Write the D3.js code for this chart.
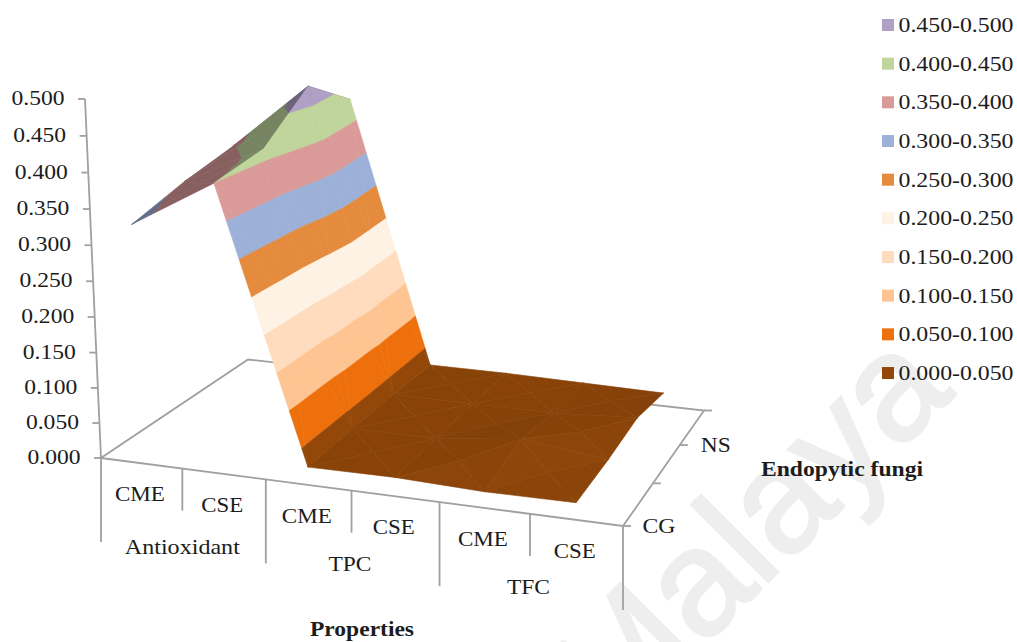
<!DOCTYPE html>
<html>
<head>
<meta charset="utf-8">
<script src="https://cdn.jsdelivr.net/npm/d3@7"></script>
<style>
  html, body { margin: 0; padding: 0; background: #fff; }
  svg { display: block; }
  text { font-family: "Liberation Serif", serif; fill: #1c1c1c; }
</style>
</head>
<body>
<svg id="chart" width="1017" height="642"></svg>
<script>
// Absorbance surface: one row per fungus series, one column per property/extract
const groups = ["Antioxidant", "TPC", "TFC"];
const categories = ["CME", "CSE", "CME", "CSE", "CME", "CSE"];
const seriesLabels = ["CG", "", "NS", ""];
const rowCG  = [0.334, 0.400, 0.025, 0.026, 0.022, 0.023];
const rowMid = [0.360, 0.416, 0.026, 0.026, 0.040, 0.026];
const rowNS  = [0.380, 0.478, 0.026, 0.026, 0.026, 0.033];
const rowEnd = [0.400, 0.432, 0.024, 0.024, 0.022, 0.020];
const valueTicks = [0, 0.05, 0.1, 0.15, 0.2, 0.25, 0.3, 0.35, 0.4, 0.45, 0.5];
const bandLabels = ["0.450-0.500", "0.400-0.450", "0.350-0.400", "0.300-0.350", "0.250-0.300",
                    "0.200-0.250", "0.150-0.200", "0.100-0.150", "0.050-0.100", "0.000-0.050"];
const bandColors = ["#b0a0c6", "#c0d59c", "#da9a98", "#9cb0d8", "#e48b3e",
                    "#fef2e4", "#fedcbd", "#fec492", "#ee700c", "#93480a"];
const rows = [rowCG, rowMid, rowNS, rowEnd];

const svg = d3.select("#chart");
const greyAxis = "#a0a0a0";

// Perspective camera: floor quad plus a slowly converging vertical direction
const floorQuad = [[101, 458], [623, 526], [704, 410.5], [248, 359.5]];
const axisTop = [85, 99];
const riseConverge = -0.03;

function floorHomography([p0, p1, p2, p3]) {
  const dx1 = p1[0] - p2[0], dy1 = p1[1] - p2[1];
  const dx2 = p3[0] - p2[0], dy2 = p3[1] - p2[1];
  const dx3 = p0[0] - p1[0] + p2[0] - p3[0], dy3 = p0[1] - p1[1] + p2[1] - p3[1];
  const den = dx1 * dy2 - dx2 * dy1;
  const g = (dx3 * dy2 - dx2 * dy3) / den;
  const h = (dx1 * dy3 - dx3 * dy1) / den;
  return { a: p1[0] - p0[0] + g * p1[0], b: p3[0] - p0[0] + h * p3[0], c: p0[0],
           d: p1[1] - p0[1] + g * p1[1], e: p3[1] - p0[1] + h * p3[1], f: p0[1], g, h };
}
const H = floorHomography(floorQuad);
const riseX = axisTop[0] * (1 + riseConverge) - H.c;
const riseY = axisTop[1] * (1 + riseConverge) - H.f;

const uScale = d3.scaleBand().domain(d3.range(categories.length)).range([0, 1]);
const vScale = d3.scalePoint().domain(d3.range(seriesLabels.length)).range([0, 1]);
const zScale = d3.scaleLinear().domain([0, 0.5]).range([0, 1]);

function depth(u, v, value) {
  return H.g * u + H.h * v + riseConverge * zScale(value) + 1;
}
function project(u, v, value) {
  const z = zScale(value), w = depth(u, v, value);
  return [(H.a * u + H.b * v + riseX * z + H.c) / w,
          (H.d * u + H.e * v + riseY * z + H.f) / w];
}

// Facets: every grid cell is split into four triangles around its mean height
const nodeAt = (i, j) => ({ u: uScale(i) + uScale.bandwidth() / 2, v: vScale(j), value: rows[j][i] });
const facets = [];
d3.range(categories.length - 1).forEach(i => {
  d3.range(rows.length - 1).forEach(j => {
    const ring = [nodeAt(i, j), nodeAt(i + 1, j), nodeAt(i + 1, j + 1), nodeAt(i, j + 1)];
    const centre = { u: d3.mean(ring, n => n.u), v: d3.mean(ring, n => n.v), value: d3.mean(ring, n => n.value) };
    ring.forEach((n, k) => facets.push([n, ring[(k + 1) % 4], centre]));
  });
});

function clipBand(poly, level, keepAbove) {
  const out = [];
  poly.forEach((p, k) => {
    const q = poly[(k + 1) % poly.length];
    const pIn = keepAbove ? p.value >= level : p.value <= level;
    const qIn = keepAbove ? q.value >= level : q.value <= level;
    if (pIn) out.push(p);
    if (pIn !== qIn) {
      const t = (level - p.value) / (q.value - p.value);
      out.push({ u: p.u + t * (q.u - p.u), v: p.v + t * (q.v - p.v), value: level });
    }
  });
  return out;
}

// Directional light from the right: slopes turned away go dark, the nearly flat floor varies gently
function facetShade([a, b, c]) {
  const ux = b.u - a.u, uy = b.v - a.v, uz = zScale(b.value) - zScale(a.value);
  const vx = c.u - a.u, vy = c.v - a.v, vz = zScale(c.value) - zScale(a.value);
  const nx = uy * vz - uz * vy, ny = uz * vx - ux * vz, nz = ux * vy - uy * vx;
  const sx = nx / nz, sy = ny / nz;
  if (sx < -0.3) return 0.62;
  if (Math.abs(sx) > 0.5 || Math.abs(sy) > 0.5) return 1;
  return 0.93 + 0.05 * Math.max(-1, Math.min(1, (sx * 0.7 - sy) * 5));
}

// Faint diagonal watermark behind the chart
svg.append("text")
  .attr("transform", "translate(614,736) rotate(-45)")
  .attr("font-size", 150)
  .attr("stroke", "#eeeeee")
  .attr("stroke-width", 3)
  .style("font-family", "'Liberation Sans', sans-serif")
  .style("fill", "#eeeeee")
  .text("Malaya");

// Floor and axes
const gAxes = svg.append("g").attr("fill", "none").attr("stroke", greyAxis).attr("stroke-width", 1.8);
const line = d3.line();
gAxes.append("path").attr("d", line(floorQuad) + "Z");
gAxes.append("path").attr("d", line([project(0, 0, 0), project(0, 0, 0.5)]));
valueTicks.forEach(t => {
  const [x, y] = project(0, 0, t);
  gAxes.append("path").attr("d", line([[x - 7, y], [x, y]]));
});
d3.range(categories.length + 1).forEach(i => {
  const [x, y] = project(i / categories.length, 0, 0);
  gAxes.append("path").attr("d", line([[x, y], [x, y + (i % 2 === 0 ? 84 : 42)]]));
});
seriesLabels.forEach((s, j) => {
  const [x, y] = project(1, vScale(j), 0);
  gAxes.append("path").attr("d", line([[x, y], [x + 8, y]]));
});

// Surface, far facets first, cut into its value bands
const gSurface = svg.append("g");
facets
  .map(tri => ({ tri, d: d3.mean(tri, n => depth(n.u, n.v, n.value)) }))
  .sort((p, q) => q.d - p.d)
  .forEach(({ tri }) => {
    const shade = facetShade(tri);
    bandColors.forEach((colour, idx) => {
      const hi = 0.5 - idx * 0.05, lo = hi - 0.05;
      let piece = clipBand(tri, lo, true);
      if (piece.length) piece = clipBand(piece, hi, false);
      if (piece.length < 3) return;
      const c = d3.rgb(colour);
      const fill = d3.rgb(c.r * shade, c.g * shade, c.b * shade).formatHex();
      gSurface.append("path")
        .attr("d", line(piece.map(n => project(n.u, n.v, n.value))) + "Z")
        .attr("fill", fill)
        .attr("stroke", fill)
        .attr("stroke-width", 0.6)
        .attr("stroke-linejoin", "round");
    });
  });

// The lettering runs a little wider than its natural metrics
function label(x, y, str, size, width, bold) {
  const t = svg.append("text")
    .attr("x", x).attr("y", y)
    .attr("text-anchor", "middle")
    .attr("dominant-baseline", "central")
    .attr("font-size", size)
    .attr("font-weight", bold ? "bold" : "normal")
    .text(str);
  if (width) t.attr("textLength", width).attr("lengthAdjust", "spacingAndGlyphs");
  return t;
}

const fontSize = 21.5;
valueTicks.forEach(t => {
  const [x, y] = project(0, 0, t);
  label(x - 47, y - 1, d3.format(".3f")(t), fontSize, 53);
});
categories.forEach((c, i) => {
  const [x, y] = project(uScale(i) + uScale.bandwidth() / 2, 0, 0);
  label(x - 1.5, y + 31, c, fontSize, c === "CME" ? 50 : 42);
});
groups.forEach((g, i) => {
  const [x, y] = project((2 * i + 1) / categories.length, 0, 0);
  label(i === 0 ? x : x - 1.5, y + (i === 0 ? 78 : 73), g, fontSize, g === "Antioxidant" ? 115 : 43);
});
seriesLabels.forEach((s, j) => {
  if (!s) return;
  const [x, y] = project(1, vScale(j), 0);
  label(x + 36, y, s, fontSize, s === "CG" ? 33 : 30);
});
label(362, 629, "Properties", fontSize, 104, true);
label(842, 469, "Endopytic fungi", fontSize, 162, true);

// Legend
const legendY = d3.scalePoint().domain(bandLabels).range([25, 373]);
bandLabels.forEach((b, k) => {
  const y = legendY(b);
  svg.append("rect").attr("x", 882).attr("y", y - 6).attr("width", 12).attr("height", 12).attr("fill", bandColors[k]);
  label(956, y, b, fontSize, 115);
});
</script>
</body>
</html>
